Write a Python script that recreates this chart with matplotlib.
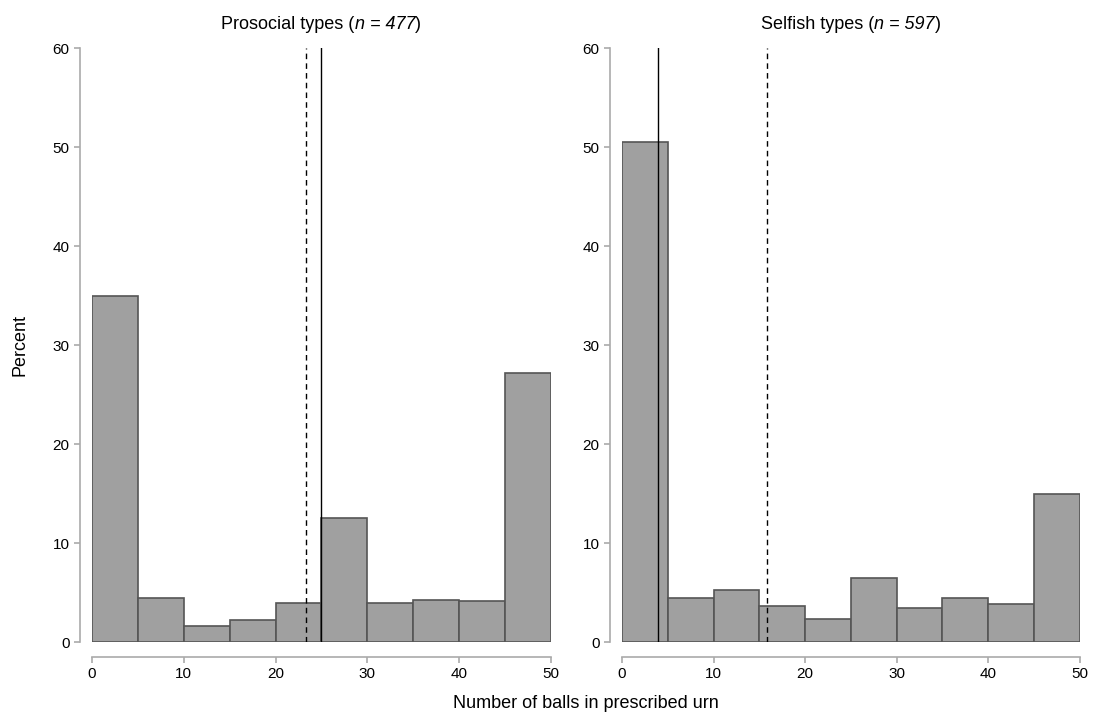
import matplotlib.pyplot as plt
import numpy as np
from matplotlib.offsetbox import TextArea, HPacker, AnchoredOffsetbox

plt.rcParams['font.family'] = ['Liberation Sans', 'DejaVu Sans']

# bin edges (balls in prescribed urn) and percent in each bin
bin_edges = [0, 5, 10, 15, 20, 25, 30, 35, 40, 45, 50]
prosocial_pct = [35.0, 4.5, 1.6, 2.2, 3.9, 12.5, 3.9, 4.3, 4.1, 27.2]
selfish_pct = [50.5, 4.5, 5.3, 3.6, 2.3, 6.5, 3.4, 4.5, 3.8, 15.0]

# mean (dashed) and median (solid) markers
prosocial_mean, prosocial_median = 23.3, 25.0
selfish_mean, selfish_median = 15.8, 3.9

group_names = ["Prosocial types", "Selfish types"]
group_n = [477, 597]

fig = plt.figure(figsize=(10.95, 7.19), dpi=100)
ax1 = fig.add_axes([0.084, 0.107, 0.419, 0.826])
ax2 = fig.add_axes([0.568, 0.107, 0.418, 0.826])

panels = [(ax1, prosocial_pct, prosocial_mean, prosocial_median),
          (ax2, selfish_pct, selfish_mean, selfish_median)]

for i, (ax, pct, mean, median) in enumerate(panels):
    left = np.array(bin_edges[:-1])
    widths = np.diff(bin_edges)
    ax.bar(left, pct, width=widths, align='edge', color='#a0a0a0',
           edgecolor='#555555', linewidth=1.2)
    ax.axvline(mean, color='black', linestyle=(0, (4, 3)), linewidth=1)
    ax.axvline(median, color='black', linestyle='-', linewidth=1)
    ax.set_xlim(0, 50)
    ax.set_ylim(0, 60)
    ax.set_xticks([0, 10, 20, 30, 40, 50])
    ax.set_yticks([0, 10, 20, 30, 40, 50, 60])
    for s in ['top', 'right']:
        ax.spines[s].set_visible(False)
    ax.spines['left'].set_position(('outward', 8.6))
    ax.spines['bottom'].set_position(('outward', 10.8))
    for s in ['left', 'bottom']:
        ax.spines[s].set_color('#aaaaaa')
        ax.spines[s].set_linewidth(1.2)
    ax.tick_params(axis='both', colors='#aaaaaa', labelcolor='black',
                   labelsize=11, length=4, width=1.2)

    # title with italic n = ...
    props = dict(fontsize=13, color='black')
    parts = [TextArea(group_names[i] + " (", textprops=props),
             TextArea(f"n = {group_n[i]}", textprops=dict(props, fontstyle='italic')),
             TextArea(")", textprops=props)]
    box = HPacker(children=parts, align='baseline', pad=0, sep=0)
    anch = AnchoredOffsetbox(loc='lower center', child=box, pad=0, frameon=False,
                             bbox_to_anchor=(0.5, 1.025), bbox_transform=ax.transAxes,
                             borderpad=0)
    ax.add_artist(anch)

fig.text(0.018, 0.52, "Percent", rotation=90, ha='center', va='center', fontsize=13)
fig.text(0.535, 0.022, "Number of balls in prescribed urn", ha='center', va='center', fontsize=13)

plt.savefig("out.png", dpi=100)
plt.close()
